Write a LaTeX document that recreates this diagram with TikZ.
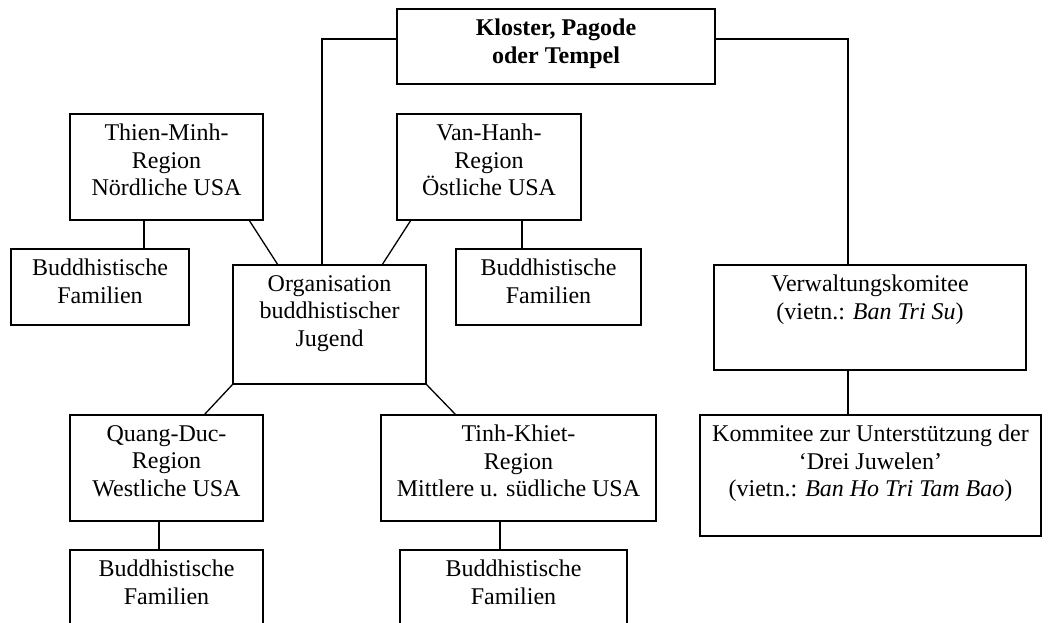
\documentclass[tikz,border=0pt]{standalone}
\usepackage{fontspec}
\setmainfont{Liberation Serif}
\begin{document}
\begin{tikzpicture}[x=1pt,y=-1pt,
  box/.style={draw, line width=1.3pt, inner sep=0pt, outer sep=0pt},
  txt/.style={anchor=north, align=center, inner sep=0pt, font=\fontsize{24}{27.5}\selectfont},
  conn/.style={line width=1.3pt}]
\useasboundingbox (0,0) rectangle (1051,623);
\clip (0,0) rectangle (1051,623);
\newcommand\mybox[6]{%
  \node[box, minimum width=#4-#2, minimum height=#5-#3] (#1) at ({(#2+#4)/2},{(#3+#5)/2}) {};
  \node[txt] (#1t) at ([yshift=-10pt]#1.north) {#6};}
\mybox{K}{397}{9}{715}{84}{\textbf{Kloster, Pagode}\\\textbf{oder Tempel}}
\mybox{TM}{70}{114}{263}{220}{Thien-Minh-\\Region\\Nördliche USA}
\mybox{VH}{397}{114}{581}{220}{Van-Hanh-\\Region\\Östliche USA}
\mybox{BFa}{11}{249}{189}{325}{Buddhistische\\Familien}
\mybox{O}{233}{265}{426}{384}{Organisation\\buddhistischer\\Jugend}
\mybox{BFb}{456}{249}{641}{325}{Buddhistische\\Familien}
\mybox{V}{714}{265}{1026}{370}{Verwaltungskomitee\\(vietn.: \textit{Ban Tri Su})}
\mybox{KO}{700}{415}{1041}{536}{Kommitee zur Unterstützung der\\`Drei Juwelen'\\(vietn.: \textit{Ban Ho Tri Tam Bao})}
\mybox{QD}{70}{415}{263}{521}{Quang-Duc-\\Region\\Westliche USA}
\mybox{TK}{381}{415}{656}{521}{Tinh-Khiet-\\Region\\Mittlere u. südliche USA}
\mybox{BFc}{70}{550}{263}{660}{Buddhistische\\Familien}
\mybox{BFd}{400}{550}{627}{660}{Buddhistische\\Familien}
% helper coordinates
\coordinate (ky) at (0,39);
\coordinate (ox) at (322,0);
\coordinate (vx) at (848,0);
\coordinate (tmx) at (144,0);
\coordinate (vhx) at (522,0);
\coordinate (qdx) at (159,0);
\coordinate (tkx) at (500,0);
\coordinate (tmd) at (249,0);
\coordinate (otl) at (278,0);
\coordinate (vhd) at (411,0);
\coordinate (otr) at (382,0);
\coordinate (qdd) at (204,0);
\coordinate (tkd) at (456,0);
\draw[conn] (K.west |- ky) -| (ox |- O.north);
\draw[conn] (K.east |- ky) -| (vx |- V.north);
\draw[conn] (tmx |- TM.south) -- (tmx |- BFa.north);
\draw[conn] (tmd |- TM.south) -- (otl |- O.north);
\draw[conn] (vhd |- VH.south) -- (otr |- O.north);
\draw[conn] (vhx |- VH.south) -- (vhx |- BFb.north);
\draw[conn] (O.south west) -- (qdd |- QD.north);
\draw[conn] (O.south east) -- (tkd |- TK.north);
\draw[conn] (qdx |- QD.south) -- (qdx |- BFc.north);
\draw[conn] (tkx |- TK.south) -- (tkx |- BFd.north);
\draw[conn] (vx |- V.south) -- (vx |- KO.north);
\end{tikzpicture}
\end{document}
